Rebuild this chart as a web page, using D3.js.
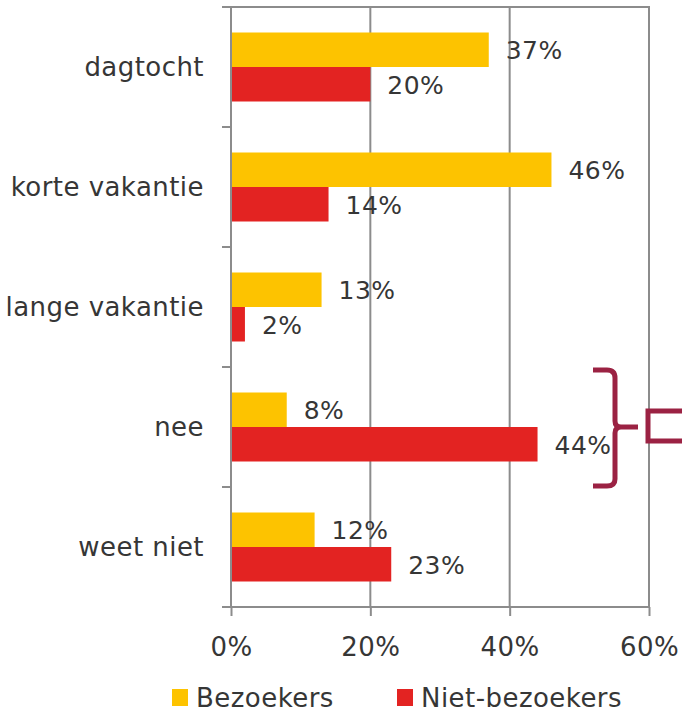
<!DOCTYPE html>
<html>
<head>
<meta charset="utf-8">
<script src="https://cdn.jsdelivr.net/npm/d3@7"></script>
<style>
    body { margin: 0; background: #fff; }
    text { font-family: "DejaVu Sans", Verdana, sans-serif; fill: #363636; letter-spacing: 0.45px; }
</style>
</head>
<body>
<div class="bar-chart-container"></div>
<script>
// Data.
const categories = ['dagtocht', 'korte vakantie', 'lange vakantie', 'nee', 'weet niet'];
const seriesNames = ['Bezoekers', 'Niet-bezoekers'];
const bezoekers = [37, 46, 13, 8, 12];
const nietBezoekers = [20, 14, 2, 44, 23];
const xTicks = [0, 20, 40, 60];
const colors = ['#FDC300', '#E32322'];

const svg = d3
    .select('.bar-chart-container')
    .append('svg')
    .attr('width', 682)
    .attr('height', 712);

ready();

// Main function.
function ready() {
    const area = {left: 231, right: 649, top: 7, bottom: 607};

    const xScale = d3
        .scaleLinear()
        .domain([0, 60])
        .range([area.left, area.right]);

    const yScale = d3
        .scaleBand()
        .domain(categories)
        .range([area.top, area.bottom])
        .paddingInner(0.425)
        .paddingOuter(0.2125);

    const seriesScale = d3
        .scaleBand()
        .domain(seriesNames)
        .range([0, yScale.bandwidth()]);

    const rows = categories.map((c, i) => ({
        category: c,
        values: [
            {series: seriesNames[0], value: bezoekers[i]},
            {series: seriesNames[1], value: nietBezoekers[i]}
        ]
    }));

    drawGrid(xScale, yScale, area);
    drawBars(rows, xScale, yScale, seriesScale);
    drawAxis(xScale, yScale, area);
    drawLegend();
    drawBracket();
}

function drawGrid(xScale, yScale, area) {
    svg.append('g')
        .selectAll('line')
        .data(xTicks.slice(1))
        .enter()
        .append('line')
        .attr('x1', d => xScale(d))
        .attr('x2', d => xScale(d))
        .attr('y1', area.top)
        .attr('y2', area.bottom)
        .style('stroke', '#8c8c8c')
        .style('stroke-width', 2);

    // top border
    svg.append('line')
        .attr('x1', area.left - 9)
        .attr('x2', area.right + 1)
        .attr('y1', area.top)
        .attr('y2', area.top)
        .style('stroke', '#8c8c8c')
        .style('stroke-width', 2);
}

function drawBars(rows, xScale, yScale, seriesScale) {
    const groups = svg.append('g')
        .selectAll('.group')
        .data(rows)
        .enter()
        .append('g')
        .attr('class', 'group')
        .attr('transform', d => `translate(0, ${yScale(d.category)})`);

    groups.selectAll('.bar')
        .data(d => d.values)
        .enter()
        .append('rect')
        .attr('class', 'bar')
        .attr('x', xScale(0))
        .attr('y', d => seriesScale(d.series))
        .attr('width', d => xScale(d.value) - xScale(0))
        .attr('height', seriesScale.bandwidth())
        .style('fill', (d, i) => colors[i]);

    groups.selectAll('.label')
        .data(d => d.values)
        .enter()
        .append('text')
        .attr('class', 'label')
        .attr('x', d => xScale(d.value) + 17)
        .attr('y', d => seriesScale(d.series) + seriesScale.bandwidth() / 2)
        .attr('dy', '0.37em')
        .style('font-size', '25px')
        .text(d => d.value + '%');
}

function drawAxis(xScale, yScale, area) {
    const axisX = d3.axisBottom(xScale)
        .tickValues(xTicks)
        .tickFormat(d => d + '%')
        .tickSize(9)
        .tickPadding(22)
        .tickSizeOuter(0);

    const gx = svg.append('g')
        .attr('transform', `translate(0, ${area.bottom})`)
        .call(axisX);
    gx.select('.domain').remove();
    gx.selectAll('line').style('stroke', '#8c8c8c').style('stroke-width', 2);
    gx.selectAll('text')
        .style('font-family', '"DejaVu Sans", Verdana, sans-serif')
        .style('font-size', '26px')
        .style('fill', '#363636');

    svg.append('line')
        .attr('x1', area.left - 9)
        .attr('x2', area.right + 1)
        .attr('y1', area.bottom)
        .attr('y2', area.bottom)
        .style('stroke', '#8c8c8c')
        .style('stroke-width', 2);

    svg.append('line')
        .attr('x1', area.left)
        .attr('x2', area.left)
        .attr('y1', area.top - 1)
        .attr('y2', area.bottom)
        .style('stroke', '#8c8c8c')
        .style('stroke-width', 2);

    // category tick marks at band edges
    const edges = categories.map(c => yScale(c) - yScale.step() * yScale.paddingInner() / 2)
        .concat([area.bottom]);
    svg.append('g')
        .selectAll('line')
        .data(edges)
        .enter()
        .append('line')
        .attr('x1', area.left - 9)
        .attr('x2', area.left)
        .attr('y1', d => d)
        .attr('y2', d => d)
        .style('stroke', '#8c8c8c')
        .style('stroke-width', 2);

    svg.append('g')
        .selectAll('text')
        .data(categories)
        .enter()
        .append('text')
        .attr('x', 204)
        .attr('y', d => yScale(d) + yScale.bandwidth() / 2)
        .attr('dy', '0.36em')
        .attr('text-anchor', 'end')
        .style('font-size', '26px')
        .text(d => d);
}

function drawLegend() {
    const items = [
        {name: seriesNames[0], color: colors[0], x: 172},
        {name: seriesNames[1], color: colors[1], x: 397}
    ];
    const legend = svg.append('g')
        .selectAll('g')
        .data(items)
        .enter()
        .append('g')
        .attr('transform', d => `translate(${d.x}, 689)`);

    legend.append('rect')
        .attr('width', 16)
        .attr('height', 17)
        .style('fill', d => d.color);

    legend.append('text')
        .attr('x', 24)
        .attr('y', 18)
        .style('font-size', '26px')
        .text(d => d.name);
}

function drawBracket() {
    const g = svg.append('g')
        .style('fill', 'none')
        .style('stroke', '#9B2243')
        .style('stroke-width', 5);

    g.append('path')
        .attr('d', 'M593,370 H607 Q615,370 615,378 V421 Q615,427 621,427 H638 ' +
            'M621,427 Q615,427 615,433 V479 Q615,486 607,486 H593');

    g.append('path')
        .attr('d', 'M682,411 H648 V441 H682');
}
</script>
</body>
</html>
